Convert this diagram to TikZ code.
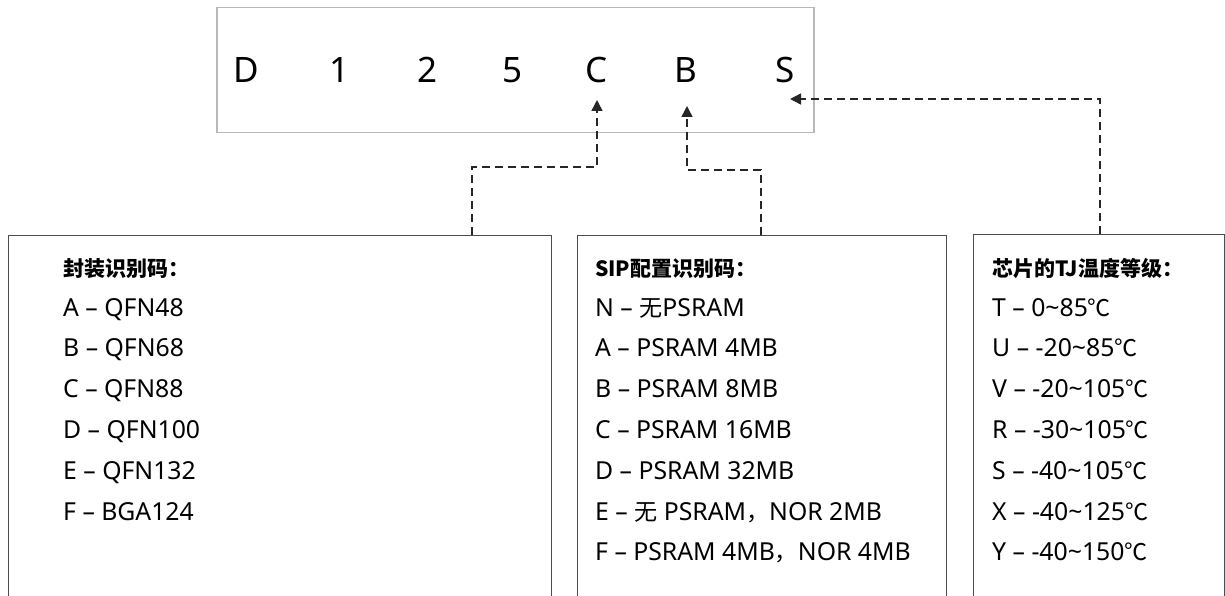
\documentclass[tikz,border=0pt]{standalone}
\usepackage{fontspec}
\setmainfont{Noto Sans}[Scale=1.18]
\newfontfamily\cjk{Noto Sans CJK SC}[Scale=1.1]
\newfontfamily\cjkhead{Noto Sans CJK SC}
\newfontfamily\latinsym{Noto Sans}
\usetikzlibrary{arrows.meta}

\begin{document}
\begin{tikzpicture}[x=1pt,y=-1pt,
  codebox/.style={draw=black!28, line width=1.5pt},
  infobox/.style={draw=black!70, line width=1.4pt, anchor=north west,
    inner sep=0pt, minimum height=400pt},
  symbol/.style={anchor=base, inner sep=0pt, font=\latinsym\fontsize{35}{35}\selectfont},
  entry/.style={anchor=base west, inner sep=0pt, font=\fontsize{21}{21}\selectfont},
  heading/.style={entry, font=\cjkhead\fontsize{21}{21}\selectfont\bfseries},
  conn/.style={draw=black!85, line width=1.4pt, dash pattern=on 8pt off 5pt,
    -{Triangle[length=11pt,width=11pt]}}
]
\clip (0,0) rectangle (1225,596);
\fill[white] (0,0) rectangle (1225,596);

% part number
\node[codebox, anchor=north west, minimum width=597pt, minimum height=125pt,
  inner sep=0pt] (code) at (216,7) {};
\foreach \ch/\px/\nm in {D/246/sD, 1/340/s1, 2/428/s2, 5/513/s5, C/597/sC, B/686/sB, S/785/sS}
  \node[symbol] (\nm) at (\px,83) {\ch};

% arrow end points just under / beside the symbols
\coordinate (tipC) at (597,100);
\coordinate (tipB) at (687,106);
\coordinate (tipS) at (790,99);

% description boxes
\node[infobox, minimum width=543pt] (pkg) at (8,235) {};
\node[infobox, minimum width=369pt] (sip) at (577,235) {};
\node[infobox, minimum width=251pt] (temp) at (973,234) {};

% package codes
\node[heading] (pkgh) at (63,276) {封装识别码：};
\foreach \t [count=\i] in {A – QFN48, B – QFN68, C – QFN88, D – QFN100, E – QFN132, F – BGA124}
  \node[entry] (pkg\i) at (63,275.2+40.8*\i) {\t};

% SIP configuration codes
\node[heading] (siph) at (595,276) {SIP配置识别码：};
\foreach \t [count=\i] in {N – {\cjk 无}PSRAM, A – PSRAM 4MB, B – PSRAM 8MB, C – PSRAM 16MB,
    D – PSRAM 32MB, E – {\cjk 无} PSRAM{\cjk ，}NOR 2MB, F – PSRAM 4MB{\cjk ，}NOR 4MB}
  \node[entry] (sip\i) at (595,275.2+40.8*\i) {\t};

% junction temperature grades
\node[heading] (temph) at (992,276) {芯片的TJ温度等级：};
\foreach \lo/\hi/\g [count=\i] in {0/85/T, -20/85/U, -20/105/V, -30/105/R, -40/105/S, -40/125/X, -40/150/Y}
  \node[entry] (temp\i) at (992,275.2+40.8*\i) {\g{} – \lo\textasciitilde\hi{\cjk ℃}};

% connectors
\draw[conn] ([xshift=464pt]pkg.north west) |- ([yshift=68pt]pkg.north west -| tipC) -- (tipC);
\draw[conn] ([xshift=184pt]sip.north west) |- ([yshift=65pt]sip.north west -| tipB) -- (tipB);
\draw[conn] ([xshift=127pt]temp.north west) |- (tipS);
\end{tikzpicture}
\end{document}
